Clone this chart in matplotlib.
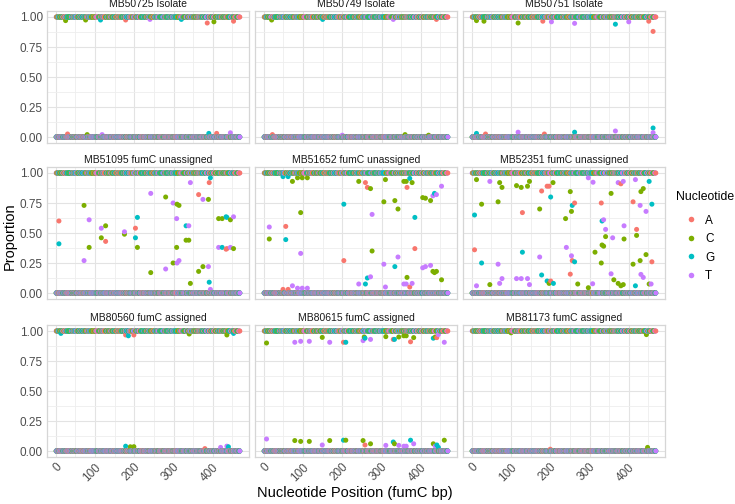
import numpy as np
import pandas as pd
import matplotlib
matplotlib.use("Agg")
import matplotlib.pyplot as plt
from matplotlib.lines import Line2D
from matplotlib.ticker import MultipleLocator, FormatStrFormatter

plt.rcParams['font.family'] = ['Liberation Sans', 'DejaVu Sans']

# dominant base at each position of the fumC fragment (1-based positions)
fumc_seq = ("TCACAGGTCGCCAGCGCTTCACTATGCAGGGCGCCGGCGTACGTCTGCTGGTTCAGCCGT"
            "CGGAAGCGGTGCAGGCCAAGATGCAGTGGACCCGCACACCGAATATTACGCGCATGCAGA"
            "TGAAAACCGGAAGCGCACGTAAGCCGCTGGCGAACATCGAAGAACAGGCGCGTCGCTTCG"
            "GTGGCGATGATCAACGCTATGTACCAGGTCGATTACCGGCGGCTGGCGCGAAGCATGCTG"
            "GCCACGAAACCTGGTCGCTGATTCGGCGCGCGTGTTCGAAGCGGCGCTGGAAGGCGATGT"
            "GCTGGCGGGCACCCAGGAAATTCTGCGCCGCATTGCGCATCTGTTCCTGGACCAGCGCAT"
            "CGAAGATCTGCAGGCGATGCCGGTTATCGGTAAAGCCTGGCATTACGCCATCGCTGGCAG"
            "TCAAGCGCAGCGACTTCACCGGCGGTTACGTGCCGAAAATGCCGCATTA")

nucleotides = ["A", "C", "G", "T"]
nuc_colors = ["#F8766D", "#7CAE00", "#00BFC4", "#C77CFF"]

panel_titles = ["MB50725 Isolate", "MB50749 Isolate", "MB50751 Isolate",
                "MB51095 fumC unassigned", "MB51652 fumC unassigned", "MB52351 fumC unassigned",
                "MB80560 fumC assigned", "MB80615 fumC assigned", "MB81173 fumC assigned"]

# positions where a base is not a clean 0 / 1 : position, base, proportion
mb50725_pos = [25, 30, 76, 80, 114, 118, 178, 240, 320, 386, 390, 403, 410, 445, 453]
mb50725_nuc = "CACCGTATGAGCATA"
mb50725_val = [0.97, 0.025, 0.975, 0.02, 0.975, 0.02, 0.975, 0.98, 0.98, 0.95, 0.03, 0.96, 0.03, 0.035, 0.965]

mb50749_pos = [20, 22, 150, 200, 330, 360, 420, 440]
mb50749_nuc = "CAGTTCCA"
mb50749_val = [0.975, 0.02, 0.98, 0.015, 0.98, 0.02, 0.015, 0.98]

mb50751_pos = [12, 12, 31, 35, 118, 118, 181, 185, 203, 262, 262, 366, 366, 400, 451, 462, 462, 462]
mb50751_nuc = "CGCACTAATTGGTTAAGT"
mb50751_val = [0.97, 0.03, 0.965, 0.025, 0.95, 0.04, 0.965, 0.025, 0.96, 0.947, 0.04, 0.94, 0.05,
               0.96, 0.965, 0.88, 0.075, 0.036]

mb51095_pos = [8, 8, 72, 72, 85, 85, 116, 116, 127, 127, 175, 175, 203, 203, 208, 208, 242, 242,
               280, 280, 299, 299, 308, 308, 309, 309, 314, 314, 332, 332, 339, 339, 343, 343,
               364, 364, 375, 375, 389, 389, 391, 391, 394, 394, 415, 415, 424, 424, 434, 434,
               436, 436, 445, 445, 453, 453]
mb51095_nuc = "AGCTTCTCCATCAGGCTCCTTCTCCTCTGCTCTCACTCCTAGGTCTCGGAGACTTC"
mb51095_val = [0.60, 0.41, 0.73, 0.27, 0.61, 0.38, 0.54, 0.46, 0.56, 0.43, 0.51, 0.49, 0.54, 0.46,
               0.63, 0.38, 0.83, 0.17, 0.80, 0.20, 0.75, 0.25, 0.62, 0.38, 0.74, 0.25, 0.73, 0.27,
               0.56, 0.44, 0.56, 0.44, 0.92, 0.08, 0.82, 0.18, 0.78, 0.22, 0.78, 0.22, 0.92, 0.09,
               0.96, 0.03, 0.62, 0.38, 0.62, 0.38, 0.635, 0.365, 0.63, 0.37, 0.61, 0.38, 0.635, 0.37]

mb51652_pos = [14, 14, 49, 49, 56, 56, 62, 62, 73, 73, 86, 86, 94, 94, 98, 98, 111, 111, 204, 204,
               242, 242, 259, 259, 264, 264, 272, 272, 276, 276, 306, 306, 310, 310, 334, 334,
               342, 342, 357, 357, 363, 363, 365, 365, 372, 372, 378, 378, 385, 385, 405, 405,
               412, 412, 425, 425, 431, 431, 435, 435, 440, 440, 453, 453]
mb51652_nuc = "TCGAAGGACTCTCTCTCTGACTAGAGCTTCCTCTCGCTCTCTACGACTGACTCTCTTCGCTCTC"
mb51652_val = [0.55, 0.45, 0.97, 0.03, 0.555, 0.445, 0.97, 0.03, 0.93, 0.06, 0.96, 0.04, 0.67, 0.33,
               0.96, 0.04, 0.96, 0.04, 0.74, 0.27, 0.93, 0.075, 0.92, 0.075, 0.88, 0.125, 0.87, 0.135,
               0.655, 0.35, 0.76, 0.24, 0.945, 0.05, 0.77, 0.22, 0.70, 0.30, 0.93, 0.075, 0.93, 0.075,
               0.88, 0.13, 0.955, 0.05, 0.92, 0.08, 0.63, 0.37, 0.795, 0.21, 0.79, 0.22, 0.77, 0.23,
               0.81, 0.18, 0.83, 0.17, 0.82, 0.18, 0.89, 0.11]

mb52351_pos = [7, 7, 12, 12, 25, 25, 46, 46, 67, 67, 71, 71, 77, 77, 114, 114, 126, 126, 129, 129,
               142, 142, 147, 147, 173, 173, 178, 178, 192, 192, 197, 197, 201, 201, 207, 208,
               239, 241, 251, 251, 254, 254, 256, 256, 262, 262, 270, 297, 297, 308, 309, 314, 314,
               330, 330, 332, 332, 336, 336, 341, 341, 355, 355, 359, 359, 362, 362, 373, 373,
               380, 380, 386, 386, 388, 388, 411, 411, 417, 417, 420, 420, 429, 429, 431, 431,
               437, 437, 444, 444, 452, 452, 457, 457, 459, 459]
mb52351_nuc = ("GACTCGTCCTCTCTCTCTAGCTCTCTAGAGACGACGCTCACTGAAGCTCTTCCACGCTCTCTCTTCCTCA"
               "CTCTCACTGACTCTCTCTCGCTTGATCTCTCTCT")
mb52351_val = [0.65, 0.36, 0.945, 0.06, 0.74, 0.25, 0.93, 0.07, 0.76, 0.24, 0.92, 0.08, 0.88, 0.12,
               0.895, 0.12, 0.88, 0.12, 0.67, 0.34, 0.89, 0.12, 0.93, 0.07, 0.70, 0.30, 0.85, 0.15,
               0.89, 0.10, 0.89, 0.08, 0.80, 0.10, 0.92, 0.08, 0.62, 0.38, 0.845, 0.157, 0.68, 0.31,
               0.73, 0.27, 0.75, 0.26, 0.075, 0.96, 0.044, 0.077, 0.923, 0.66, 0.34, 0.75, 0.25,
               0.60, 0.40, 0.61, 0.39, 0.53, 0.47, 0.16, 0.83, 0.52, 0.46, 0.90, 0.11, 0.92, 0.08,
               0.91, 0.06, 0.93, 0.07, 0.56, 0.45, 0.76, 0.24, 0.945, 0.06, 0.53, 0.48, 0.73, 0.27,
               0.155, 0.845, 0.13, 0.87, 0.68, 0.32, 0.93, 0.075, 0.93, 0.075, 0.74, 0.26]

mb80560_pos = [13, 178, 178, 185, 190, 199, 199, 340, 380, 420, 436, 436, 440, 453]
mb80560_nuc = "GAGGCACCATCTGG"
mb80560_val = [0.98, 0.967, 0.04, 0.96, 0.035, 0.967, 0.036, 0.975, 0.02, 0.03, 0.967, 0.04, 0.035, 0.98]

mb80615_pos = [7, 7, 79, 79, 94, 94, 116, 116, 149, 149, 168, 168, 203, 203, 209, 209, 253, 253,
               256, 258, 258, 272, 272, 311, 311, 330, 330, 333, 333, 344, 344, 357, 357, 363, 363,
               374, 374, 382, 382, 432, 432, 437, 437, 441, 441, 445, 445, 460, 460]
mb80615_nuc = "CTTCTCTCCTTCAGGCTCCGATCCTAGGCCTCTCTAGCTGCCTAGTGTC"
mb80615_val = [0.90, 0.10, 0.906, 0.087, 0.914, 0.08, 0.914, 0.08, 0.947, 0.05, 0.906, 0.087,
               0.906, 0.09, 0.906, 0.09, 0.92, 0.087, 0.95, 0.94, 0.05, 0.93, 0.06, 0.953, 0.047,
               0.93, 0.075, 0.93, 0.06, 0.95, 0.047, 0.96, 0.04, 0.96, 0.04, 0.91, 0.09, 0.945, 0.06,
               0.94, 0.06, 0.95, 0.04, 0.945, 0.05, 0.97, 0.03, 0.906, 0.09]

mb81173_pos = [100, 200, 445, 448]
mb81173_nuc = "CACC"
mb81173_val = [0.985, 0.015, 0.97, 0.03]

panel_pos = [mb50725_pos, mb50749_pos, mb50751_pos, mb51095_pos, mb51652_pos, mb52351_pos,
             mb80560_pos, mb80615_pos, mb81173_pos]
panel_nuc = [mb50725_nuc, mb50749_nuc, mb50751_nuc, mb51095_nuc, mb51652_nuc, mb52351_nuc,
             mb80560_nuc, mb80615_nuc, mb81173_nuc]
panel_val = [mb50725_val, mb50749_val, mb50751_val, mb51095_val, mb51652_val, mb52351_val,
             mb80560_val, mb80615_val, mb81173_val]


def sample_table(pos, nuc, val):
    positions = np.arange(1, len(fumc_seq) + 1)
    rows = []
    for p in positions:
        for n in nucleotides:
            rows.append((p, n, 1.0 if fumc_seq[p - 1] == n else 0.0))
    df = pd.DataFrame(rows, columns=["position", "nucleotide", "proportion"])
    df = df.set_index(["position", "nucleotide"])
    for p, n, v in zip(pos, nuc, val):
        df.loc[(p, n), "proportion"] = v
    return df.sort_index().reset_index()


W, H = 735, 504
fig = plt.figure(figsize=(W / 100, H / 100), dpi=100)

col_left = [47, 255, 463]
row_top = [11, 167, 325]
pw, ph = 202, 132
cmap = dict(zip(nucleotides, nuc_colors))

for i, title in enumerate(panel_titles):
    r, c = divmod(i, 3)
    ax = fig.add_axes([col_left[c] / W, 1 - (row_top[r] + ph) / H, pw / W, ph / H])
    df = sample_table(panel_pos[i], panel_nuc[i], panel_val[i])
    ax.scatter(df["position"], df["proportion"], c=df["nucleotide"].map(cmap),
               s=13, linewidths=0, zorder=3)
    n = len(fumc_seq)
    ax.set_xlim(1 - 0.05 * (n - 1), n + 0.05 * (n - 1))
    ax.set_ylim(-0.05, 1.05)
    ax.xaxis.set_major_locator(MultipleLocator(100))
    ax.xaxis.set_minor_locator(MultipleLocator(50))
    ax.yaxis.set_major_locator(MultipleLocator(0.25))
    ax.yaxis.set_minor_locator(MultipleLocator(0.125))
    ax.yaxis.set_major_formatter(FormatStrFormatter("%.2f"))
    ax.grid(which="major", color="#E3E3E3", lw=0.8, zorder=0)
    ax.grid(which="minor", color="#EEEEEE", lw=0.6, zorder=0)
    ax.set_axisbelow(True)
    for sp in ax.spines.values():
        sp.set_color("#D6D6D6")
        sp.set_linewidth(0.9)
    ax.tick_params(which="both", length=0)
    ax.tick_params(axis="both", labelsize=8.5, labelcolor="#4D4D4D", pad=3)
    ax.tick_params(labelleft=(c == 0), labelbottom=(r == 2))
    if r == 2:
        for lab in ax.get_xticklabels():
            lab.set_rotation(45)
            lab.set_ha("right")
            lab.set_rotation_mode("anchor")
    ax.set_title(title, fontsize=7.5, color="#1A1A1A", pad=3)

fig.text(10 / W, 1 - 236 / H, "Proportion", rotation=90, ha="center", va="center", fontsize=10.5)
fig.text(355 / W, 1 - 493 / H, "Nucleotide Position (fumC bp)", ha="center", va="center",
         fontsize=10.5)

fig.text(676 / W, 1 - 197 / H, "Nucleotide", ha="left", va="center", fontsize=8.8)
handles = [Line2D([], [], marker="o", ls="none", color=col, markersize=4, markeredgewidth=0)
           for col in nuc_colors]
fig.legend(handles, nucleotides, loc="upper left",
           bbox_to_anchor=(671 / W, 1 - 204 / H), frameon=False, fontsize=8.5,
           labelspacing=0.55, handletextpad=0.4, handlelength=1.6)

fig.savefig("out.png", dpi=100)
